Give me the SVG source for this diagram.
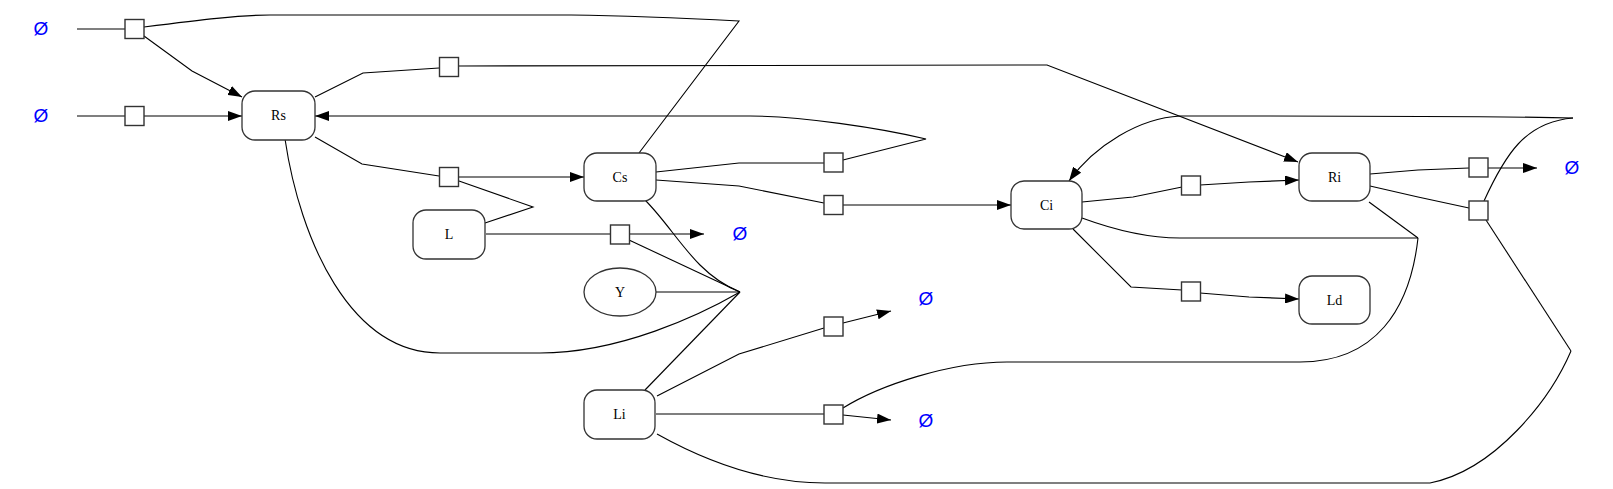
<svg xmlns="http://www.w3.org/2000/svg" width="1613" height="489" viewBox="0 0 1613 489">
<style>
.e{fill:none;stroke:#000;stroke-width:1.1}
.a{marker-end:url(#arr)}
.n{fill:#fff;stroke:#333;stroke-width:1.3}
.p{fill:#fff;stroke:#333;stroke-width:1.4}
.t{font-family:"Liberation Serif","Times New Roman",serif;font-size:14px;text-anchor:middle;fill:#000}
.z{font-family:"Liberation Sans",Arial,sans-serif;font-size:19px;text-anchor:middle;fill:#0000ff}
</style>
<defs>
<marker id="arr" markerUnits="userSpaceOnUse" markerWidth="14" markerHeight="10" refX="14" refY="5" orient="auto" viewBox="0 0 14 10">
<path d="M0,0 L14,5 L0,10 z" fill="#000"/>
</marker>
</defs>
<g id="connectors">
<path class="e" d="M77,29 L125,29"/>
<path class="e a" d="M144,36 L192,71 L242,97"/>
<path class="e" d="M144,27 C200,20 240,15 270,15 L571,15 C640,16 700,19 739,21 L639,153"/>
<path class="e" d="M77,116 L125,116"/>
<path class="e a" d="M144,116 L242,116"/>
<path class="e" d="M315,97 L363,73 L439,68"/>
<path class="e a" d="M459,66 L1047,65 L1298,162"/>
<path class="e" d="M315,137 L362,164 L439,176"/>
<path class="e a" d="M459,177 L584,177"/>
<path class="e" d="M485,223 L533,207 L459,181"/>
<path class="e" d="M486,234 L611,234"/>
<path class="e a" d="M629,234 L704,234"/>
<path class="e" d="M629,240 L740,292"/>
<path class="e" d="M656,292 L740,292"/>
<path class="e" d="M645,200 C665,220 680,245 700,265 C715,280 730,288 740,292"/>
<path class="e" d="M285,139 C300,240 350,353 440,353 L540,353 C620,353 700,315 740,292"/>
<path class="e" d="M740,292 L645,390"/>
<path class="e" d="M656,172 L739,163 L824,163"/>
<path class="e a" d="M843,160 L926,139 C880,128 800,116 750,116 L315,116"/>
<path class="e" d="M656,180 L739,186 L824,203"/>
<path class="e a" d="M843,205 L1011,205"/>
<path class="e" d="M1082,202 L1133,197 L1182,187"/>
<path class="e a" d="M1200,185 L1249,182 L1299,180"/>
<path class="e" d="M1073,229 L1131,287 L1182,290"/>
<path class="e a" d="M1200,293 L1249,297 L1299,299"/>
<path class="e" d="M1370,174 L1418,170 L1469,168"/>
<path class="e a" d="M1488,168 L1537,168"/>
<path class="e" d="M1370,186 L1418,197 L1469,208"/>
<path class="e" d="M1484,201 C1505,155 1525,122 1573,118"/>
<path class="e a" d="M1573,118 C1500,116 1300,116 1180,116 C1140,118 1095,145 1069,181"/>
<path class="e" d="M1486,220 L1571,351"/>
<path class="e" d="M1571,351 C1550,400 1495,470 1430,483 L825,483 C760,483 700,458 657,434"/>
<path class="e" d="M1082,218 C1120,232 1150,238 1180,238 L1418,238"/>
<path class="e" d="M1369,202 L1418,238"/>
<path class="e" d="M1418,238 C1410,310 1375,362 1300,362 L1007,362 C950,362 880,385 843,408"/>
<path class="e" d="M657,396 L739,354 L824,328"/>
<path class="e a" d="M843,323 L891,311"/>
<path class="e" d="M656,414 L824,414"/>
<path class="e a" d="M843,415 L891,420"/>
</g>
<g id="node-Rs"><rect class="n" x="242" y="91" width="73" height="49" rx="13"/><text class="t" x="278.5" y="120">Rs</text></g>
<g id="node-Cs"><rect class="n" x="584" y="153" width="72" height="48" rx="13"/><text class="t" x="620" y="181.5">Cs</text></g>
<g id="node-L"><rect class="n" x="413" y="210" width="72" height="49" rx="13"/><text class="t" x="449" y="239">L</text></g>
<g id="node-Y"><ellipse class="n" cx="620" cy="292" rx="36" ry="24"/><text class="t" x="620" y="296.5">Y</text></g>
<g id="node-Li"><rect class="n" x="584" y="390" width="71" height="49" rx="13"/><text class="t" x="619.5" y="419">Li</text></g>
<g id="node-Ci"><rect class="n" x="1011" y="181" width="71" height="48" rx="13"/><text class="t" x="1046.5" y="209.5">Ci</text></g>
<g id="node-Ri"><rect class="n" x="1299" y="153" width="71" height="48" rx="13"/><text class="t" x="1334.5" y="181.5">Ri</text></g>
<g id="node-Ld"><rect class="n" x="1299" y="276" width="71" height="48" rx="13"/><text class="t" x="1334.5" y="304.5">Ld</text></g>
<g id="empty-1"><text class="z" x="41" y="35">Ø</text></g>
<g id="empty-2"><text class="z" x="41" y="122">Ø</text></g>
<g id="empty-3"><text class="z" x="740" y="240">Ø</text></g>
<g id="empty-4"><text class="z" x="926" y="305">Ø</text></g>
<g id="empty-5"><text class="z" x="926" y="427">Ø</text></g>
<g id="empty-6"><text class="z" x="1572" y="174">Ø</text></g>
<g id="proc-1"><rect class="p" x="125" y="19.5" width="19" height="19"/></g>
<g id="proc-2"><rect class="p" x="125" y="106.5" width="19" height="19"/></g>
<g id="proc-3"><rect class="p" x="439.5" y="57.5" width="19" height="19"/></g>
<g id="proc-4"><rect class="p" x="439.5" y="167.5" width="19" height="19"/></g>
<g id="proc-5"><rect class="p" x="610.5" y="225" width="19" height="19"/></g>
<g id="proc-6"><rect class="p" x="824" y="153" width="19" height="19"/></g>
<g id="proc-7"><rect class="p" x="824" y="195.5" width="19" height="19"/></g>
<g id="proc-8"><rect class="p" x="824" y="317" width="19" height="19"/></g>
<g id="proc-9"><rect class="p" x="824" y="405" width="19" height="19"/></g>
<g id="proc-10"><rect class="p" x="1181.5" y="176" width="19" height="19"/></g>
<g id="proc-11"><rect class="p" x="1181.5" y="282" width="19" height="19"/></g>
<g id="proc-12"><rect class="p" x="1469" y="158" width="19" height="19"/></g>
<g id="proc-13"><rect class="p" x="1469" y="201" width="19" height="19"/></g>
</svg>
